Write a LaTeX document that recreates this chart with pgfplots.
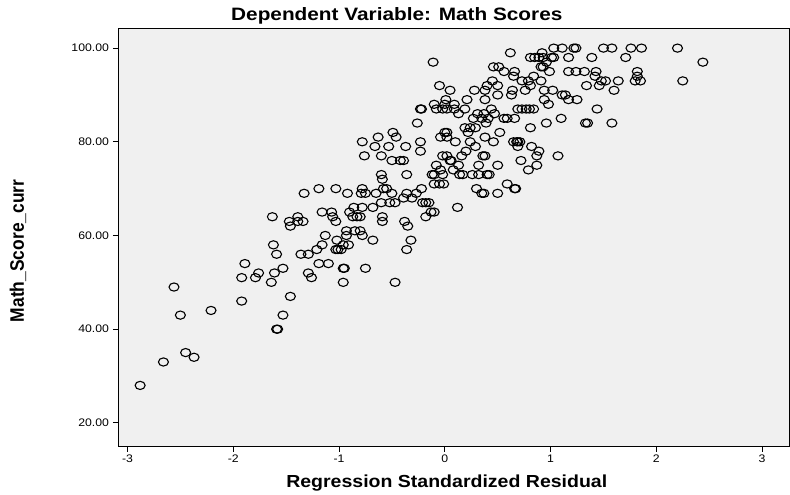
\documentclass[border=0pt]{standalone}
\usepackage{pgfplots}
\pgfplotsset{compat=1.18}
\usepackage{pgfplotstable}
\usepackage{fontspec}
\setmainfont{Liberation Sans}
\pgfplotstableread{
x y
-0.11 97
-0.05 92
0.05 91
0.01 89
-0.10 88
0.00 88
-0.23 87
-0.22 87
-0.08 87
-0.02 87
0.02 87
0.09 87
0.13 86
-0.26 84
-0.49 82
-0.46 81
-0.63 81
-0.78 80
-0.23 80
0.00 82
0.02 82
-0.04 81
0.62 99
1.03 100
1.11 100
1.22 100
1.24 100
0.92 99
0.81 98
0.85 98
0.89 98
0.93 98
1.01 98
1.03 98
1.17 98
0.46 96
0.51 96
0.91 96
0.93 96
0.96 97
0.56 95
0.66 95
0.99 95
1.17 95
1.24 95
1.32 95
0.65 94
0.84 94
0.73 93
0.79 93
0.45 93
0.91 93
0.40 92
0.50 92
0.81 92
0.28 91
0.38 91
0.64 91
0.76 91
0.94 91
1.02 91
1.34 92
0.50 90
0.63 90
1.11 90
1.14 90
0.94 89
0.38 89
0.21 89
1.17 89
1.25 89
0.98 88
0.09 88
0.19 87
0.44 87
0.69 87
0.73 87
0.77 87
0.80 87
0.84 87
0.31 86
0.37 86
0.47 86
0.27 85
0.35 85
0.41 85
0.56 85
0.59 85
0.66 85
1.10 85
0.96 84
0.19 83
0.24 83
0.29 83
0.81 83
0.39 84
0.22 82
0.52 82
1.50 100
1.58 100
1.76 100
1.86 100
2.20 100
1.39 98
1.71 98
2.44 97
1.43 95
1.42 94
1.82 95
1.82 94
1.48 93
1.52 93
1.64 93
1.80 93
1.85 93
2.25 93
1.46 92
1.60 91
1.44 87
1.33 84
1.35 84
1.58 84
1.07 77
0.10 80
0.24 80
0.38 81
0.46 80
0.29 79
0.20 78
0.16 77
0.05 76
0.06 76
0.13 75
0.08 74
0.36 77
0.38 77
0.32 75
0.50 75
0.14 73
0.17 73
0.26 73
0.32 73
0.40 73
0.42 73
0.65 80
0.68 80
0.69 80
0.71 80
0.69 79
0.82 79
0.89 78
0.87 77
0.72 76
0.87 75
0.79 74
0.30 70
0.35 69
0.37 69
0.50 69
0.59 71
0.66 70
0.67 70
0.12 66
-0.66 79
-0.53 79
-0.37 79
-0.23 78
0.02 81
-0.76 77
-0.60 77
-0.50 76
-0.42 76
-0.39 76
-0.02 77
0.02 77
-0.08 75
-0.04 74
-0.60 73
-0.59 72
-0.36 73
-0.12 73
-0.10 73
-0.02 73
-0.10 71
-0.05 71
-0.01 71
-0.78 70
-0.79 69
-0.75 69
-0.92 69
-0.58 70
-0.55 70
-0.65 69
-0.50 69
-0.36 69
-0.22 70
-0.27 69
-0.39 68
-0.31 68
-0.60 67
-0.52 67
-0.47 67
-0.21 67
-0.18 67
-0.15 67
-0.86 66
-0.78 66
-0.68 66
-0.90 65
-0.87 64
-0.83 64
-0.80 64
-0.59 64
-0.59 63
-0.13 65
-0.10 65
-0.18 64
-0.38 63
-0.35 62
-0.93 61
-0.85 61
-0.80 61
-0.78 60
-1.33 69
-1.19 70
-1.03 70
-1.16 65
-1.07 65
-1.06 64
-1.03 63
-1.63 64
-1.47 63
-1.46 62
-1.39 64
-1.39 63
-1.34 63
-1.13 60
-1.02 59
-0.93 60
-0.68 59
-1.16 58
-0.96 58
-0.91 58
-1.21 57
-1.03 57
-1.01 57
-0.98 57
-1.36 56
-1.29 56
-1.19 54
-1.10 54
-1.29 52
-1.26 51
-0.96 53
-0.95 53
-0.75 53
-0.96 50
-0.47 50
-1.46 47
-1.53 53
-1.53 43
-0.36 57
-0.32 59
-1.62 58
-1.59 56
-1.89 54
-1.92 51
-1.79 51
-1.76 52
-1.61 52
-1.64 50
-2.56 49
-1.92 46
-2.21 44
-2.50 43
-1.59 40
-1.58 40
-2.45 35
-2.37 34
-2.66 33
-2.88 28
}\resid
\definecolor{bgGray}{HTML}{F0F0F0}
\begin{document}
\begin{tikzpicture}[x=1bp,y=1bp]
\begin{axis}[
  at={(0,0)}, anchor=south west,
  scale only axis, width=672bp, height=419bp,
  xmin=-3.09, xmax=3.26, ymin=14.9, ymax=104.3,
  axis background/.style={fill=bgGray},
  axis line style={black, line width=0.8bp},
  xtick={-3,-2,-1,0,1,2,3},
  ytick={20,40,60,80,100},
  xtick pos=left, ytick pos=left,
  tick align=outside, major tick length=5bp,
  tick style={black, line width=0.8bp},
  /pgf/number format/assume math mode=true,
  yticklabel style={/pgf/number format/fixed, /pgf/number format/fixed zerofill, /pgf/number format/precision=2, font=\fontsize{11}{14}\selectfont, xscale=1.12},
  xticklabel style={font=\fontsize{11}{14}\selectfont, xscale=1.12},
  clip=false,
]
\addplot[only marks, mark=o, mark size=4.1bp, mark options={xscale=1.22, line width=1.1bp, black}] table[x=x,y=y] {\resid};
\end{axis}
\node[font=\bfseries\fontsize{18}{22}\selectfont, xscale=1.16] at (279,431) {Dependent Variable: Math Scores};
\node[font=\bfseries\fontsize{17.5}{22}\selectfont, xscale=1.12] at (329,-36) {Regression Standardized Residual};
\node[font=\bfseries\fontsize{17.5}{22}\selectfont, xscale=1.12, rotate=90] at (-100,196) {Math\_Score\_curr};
\useasboundingbox (-118,-48) rectangle (672,447);
\end{tikzpicture}
\end{document}
